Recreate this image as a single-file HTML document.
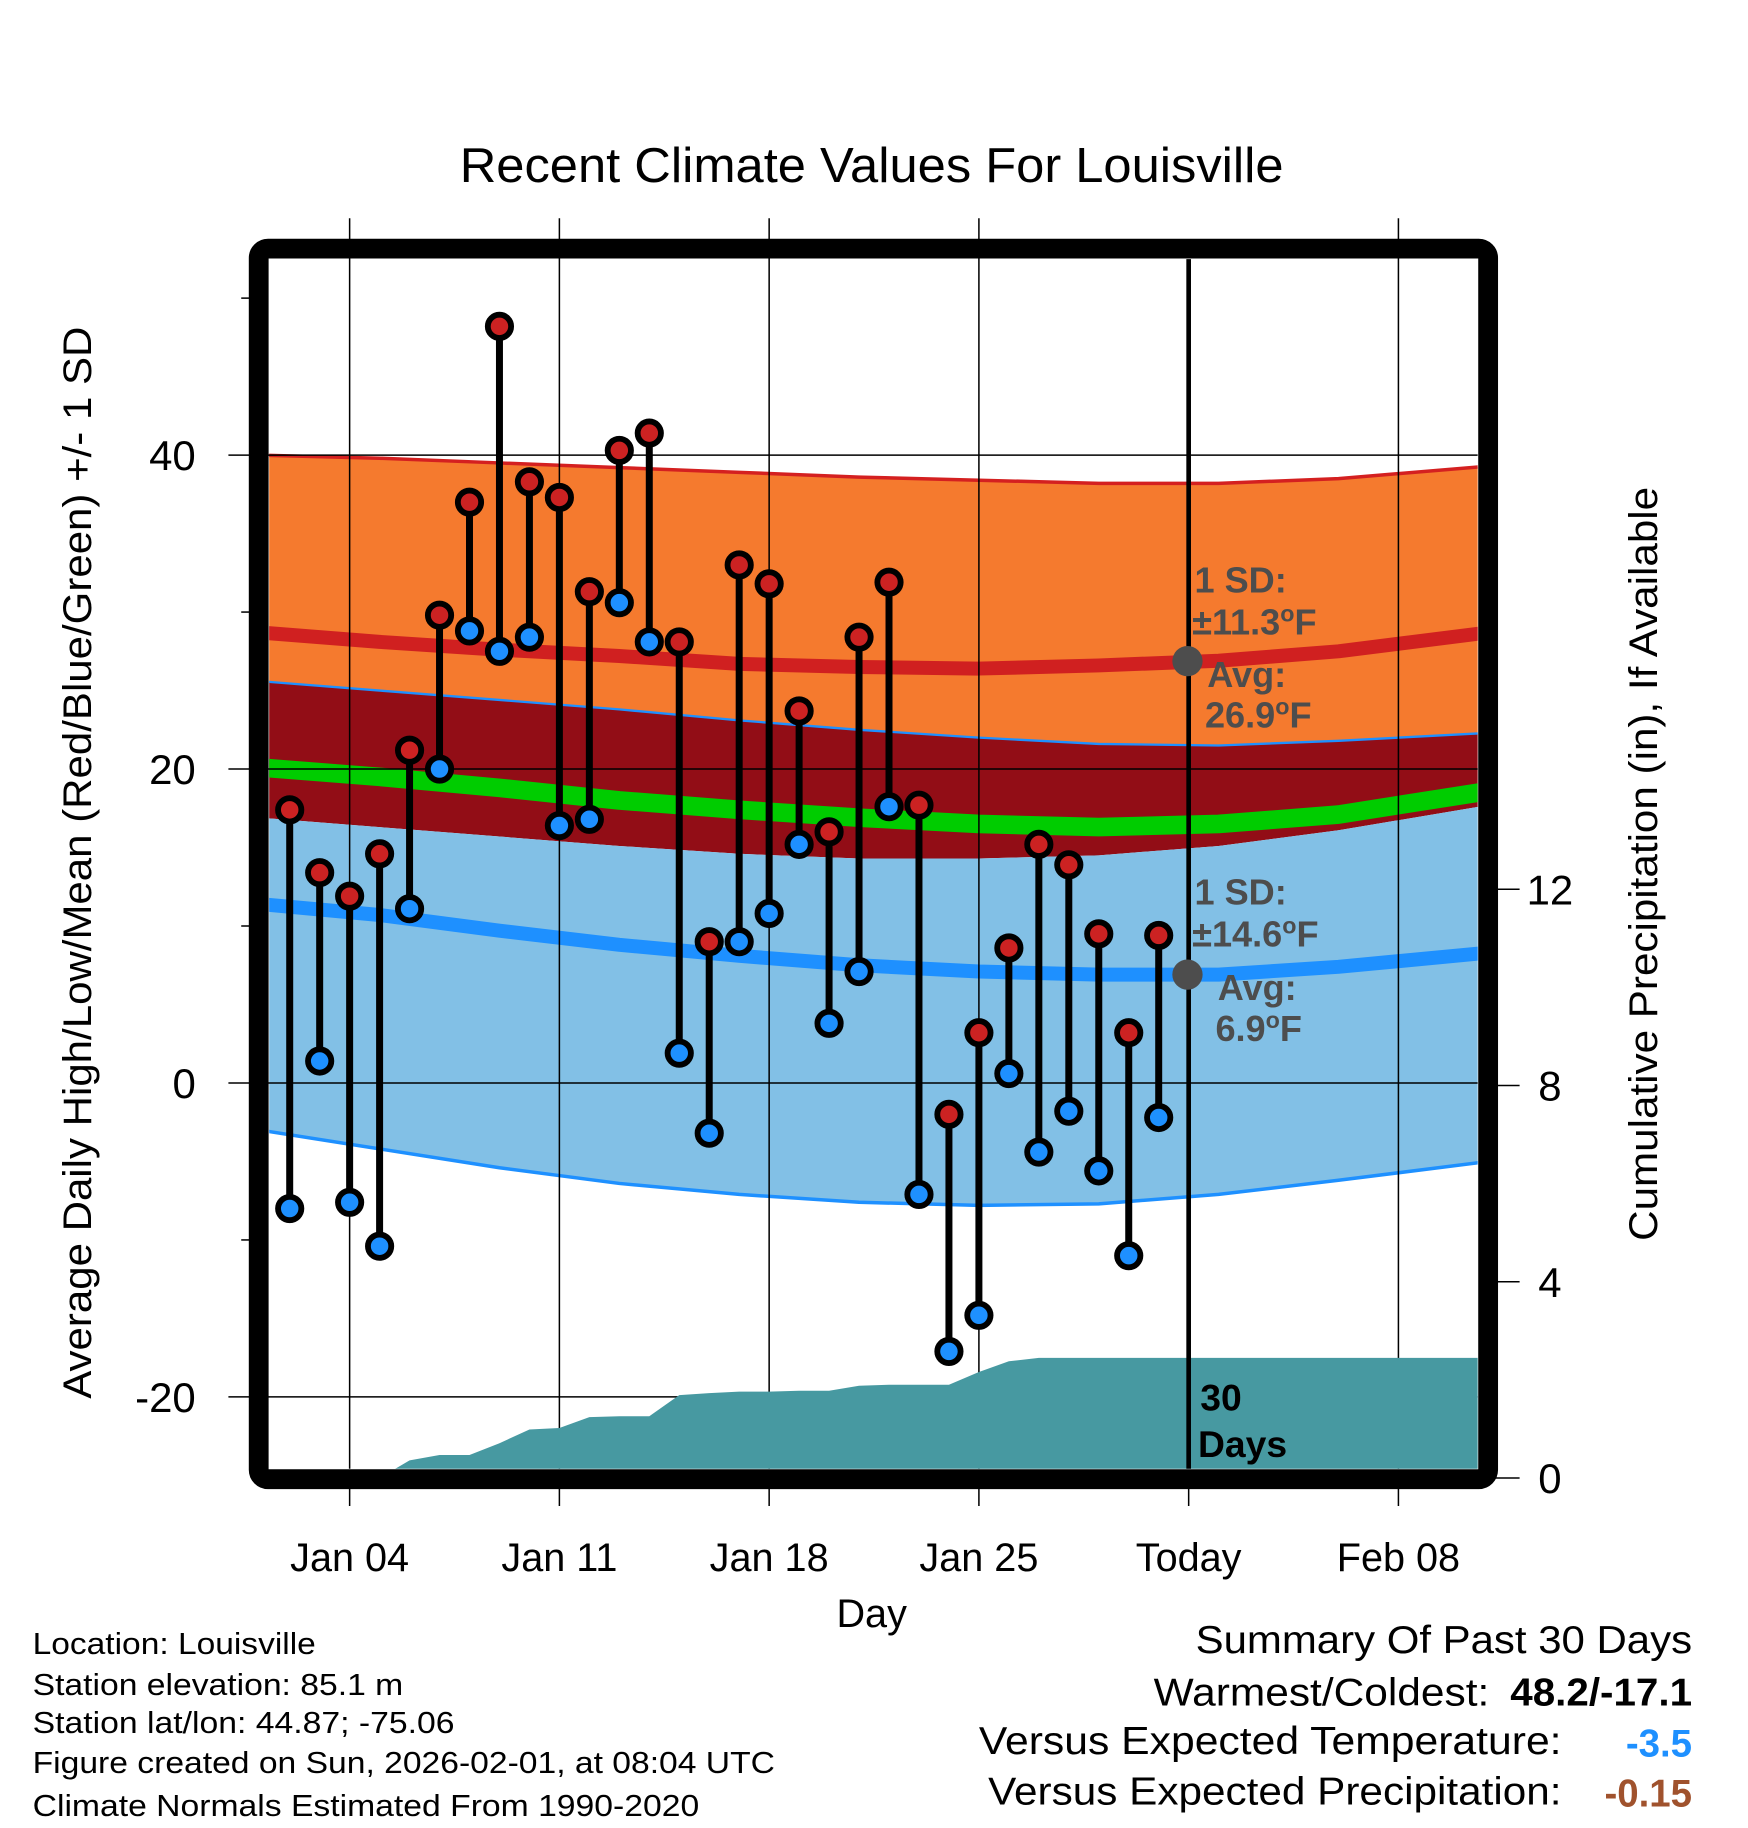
<!DOCTYPE html>
<html><head><meta charset="utf-8"><style>
html,body{margin:0;padding:0;background:#fff}
svg{display:block}
text{font-family:"Liberation Sans",Arial,sans-serif}
</style></head><body>
<svg id="chart" xmlns="http://www.w3.org/2000/svg" width="1748" height="1828" viewBox="0 0 1500 1568">
<defs><clipPath id="plotclip"><rect x="231" y="222" width="1037" height="1038"/></clipPath></defs>
<g id="bands" clip-path="url(#plotclip)"></g>
<g id="grid"></g>
<g id="precip" clip-path="url(#plotclip)"></g>
<g id="todayg"></g>
<g id="marks"></g>
<g id="annot"></g>
<rect x="222" y="213" width="1055" height="1056" rx="8" fill="none" stroke="#000" stroke-width="17"/>
<g id="axes"></g>
<text x="748" y="156" font-size="42" text-anchor="middle" textLength="707" lengthAdjust="spacingAndGlyphs">Recent Climate Values For Louisville</text>
<text transform="translate(78,740) rotate(-90)" font-size="34" text-anchor="middle" textLength="920" lengthAdjust="spacingAndGlyphs">Average Daily High/Low/Mean (Red/Blue/Green) +/- 1 SD</text>
<text transform="translate(1422,741) rotate(-90)" font-size="34" text-anchor="middle" textLength="647" lengthAdjust="spacingAndGlyphs">Cumulative Precipitation (in), If Available</text>
<text x="748" y="1396" font-size="34" text-anchor="middle">Day</text>
<g font-size="26">
<text x="28" y="1419" textLength="243" lengthAdjust="spacingAndGlyphs">Location: Louisville</text>
<text x="28" y="1454" textLength="318" lengthAdjust="spacingAndGlyphs">Station elevation: 85.1 m</text>
<text x="28" y="1487" textLength="362" lengthAdjust="spacingAndGlyphs">Station lat/lon: 44.87; -75.06</text>
<text x="28" y="1521" textLength="637" lengthAdjust="spacingAndGlyphs">Figure created on Sun, 2026-02-01, at 08:04 UTC</text>
<text x="28" y="1558" textLength="572" lengthAdjust="spacingAndGlyphs">Climate Normals Estimated From 1990-2020</text>
</g>
<g font-size="33">
<text x="1452" y="1418" text-anchor="end" textLength="426" lengthAdjust="spacingAndGlyphs">Summary Of Past 30 Days</text>
<text x="1278" y="1463" text-anchor="end" textLength="288" lengthAdjust="spacingAndGlyphs">Warmest/Coldest:</text>
<text x="1452" y="1463" text-anchor="end" font-weight="bold" textLength="156" lengthAdjust="spacingAndGlyphs">48.2/-17.1</text>
<text x="1340" y="1505" text-anchor="end" textLength="500" lengthAdjust="spacingAndGlyphs">Versus Expected Temperature:</text>
<text x="1452" y="1507" text-anchor="end" font-weight="bold" fill="#1e90ff">-3.5</text>
<text x="1340" y="1548" text-anchor="end" textLength="492" lengthAdjust="spacingAndGlyphs">Versus Expected Precipitation:</text>
<text x="1452" y="1550" text-anchor="end" font-weight="bold" fill="#a0522d">-0.15</text>
</g>
</svg>
<script>
// ---- data ----
const days = ["Jan 02","Jan 03","Jan 04","Jan 05","Jan 06","Jan 07","Jan 08","Jan 09","Jan 10","Jan 11","Jan 12","Jan 13","Jan 14","Jan 15","Jan 16","Jan 17","Jan 18","Jan 19","Jan 20","Jan 21","Jan 22","Jan 23","Jan 24","Jan 25","Jan 26","Jan 27","Jan 28","Jan 29","Jan 30","Jan 31"];
const highs = [17.4,13.4,11.9,14.6,21.2,29.8,37.0,48.2,38.3,37.3,31.3,40.3,41.4,28.1,9.0,33.0,31.8,23.7,16.0,28.4,31.9,17.7,-2.0,3.2,8.6,15.2,13.9,9.5,3.2,9.4];
const lows = [-8.0,1.4,-7.6,-10.4,11.1,20.0,28.8,27.5,28.4,16.4,16.8,30.6,28.1,1.9,-3.2,9.0,10.8,15.2,3.8,7.1,17.6,-7.1,-17.1,-14.8,0.6,-4.4,-1.8,-5.6,-11.0,-2.2];
const precip = [0,0,0,0,0.36,0.47,0.47,0.71,0.99,1.02,1.24,1.26,1.26,1.69,1.73,1.76,1.76,1.78,1.78,1.88,1.90,1.90,1.90,2.16,2.38,2.45,2.45,2.45,2.45,2.45];
// normals sampled at day offsets from Jan 02
const normDays = [-1,3,7,11,15,19,23,27,31,35,40];
const normHighMean = [28.7,28.1,27.6,27.2,26.7,26.5,26.4,26.6,26.9,27.5,28.7];
const normHighUp = [40.0,39.8,39.5,39.2,38.9,38.6,38.4,38.2,38.2,38.5,39.3];
const normHighLo = [25.6,25.0,24.4,23.8,23.1,22.5,22.0,21.6,21.5,21.8,22.3];
const normMean = [20.1,19.5,18.8,18.0,17.4,16.9,16.5,16.3,16.5,17.1,18.6];
const normLowUp = [16.9,16.3,15.7,15.1,14.6,14.3,14.3,14.5,15.1,16.1,17.7];
const normLowMean = [11.4,10.7,9.7,8.8,8.1,7.5,7.1,6.9,6.9,7.4,8.3];
const normLowLo = [-3.0,-4.2,-5.4,-6.4,-7.1,-7.6,-7.8,-7.7,-7.1,-6.2,-5.0];
const xTickLabels = ["Jan 04","Jan 11","Jan 18","Jan 25","Today","Feb 08"];
const xTickDays = [2,9,16,23,30,37];
const yTicks = [40,20,0,-20];
const yMinor = [50,30,10,-10];
const pTicks = [0,4,8,12];

// ---- scales ----
const X = d => 248.6 + d*25.714;
const Y = t => 929 - t*13.47;
const P = p => 1268 - p*42.1;
const NS = "http://www.w3.org/2000/svg";
function mk(tag, attrs, parent){const e=document.createElementNS(NS,tag);for(const k in attrs)e.setAttribute(k,attrs[k]);parent.appendChild(e);return e;}
const bands=document.getElementById('bands'),grid=document.getElementById('grid'),pg=document.getElementById('precip'),marks=document.getElementById('marks'),axes=document.getElementById('axes'),todayg=document.getElementById('todayg');
function pts(arr){return normDays.map((d,i)=>X(d)+','+Y(arr[i]));}
function band(up,lo,fill,name){const p=pts(up).concat(pts(lo).reverse()).join(' ');const e=mk('polygon',{points:p,fill:fill},bands);

}
function line(arr,col,w,name){const e=mk('polyline',{points:pts(arr).join(' '),fill:'none',stroke:col,'stroke-width':w,'stroke-linejoin':'round'},bands);

}
band(normHighUp,normHighLo,'#f57a2e','high-sd-band');
band(normHighLo,normLowUp,'#920d16','overlap-band');
band(normLowUp,normLowLo,'#82c0e6','low-sd-band');
line(normHighUp,'#d42020',3,'high-upper-line');
line(normHighLo,'#1e90ff',2,'high-lower-line');
line(normLowLo,'#1e90ff',3,'low-lower-line');
line(normHighMean,'#d02020',12,'normal-high-line');
line(normMean,'#00cc00',16,'normal-mean-line');
line(normLowMean,'#1e90ff',12,'normal-low-line');

// grid
xTickDays.forEach((d,i)=>{
  const today = xTickLabels[i]==='Today';
  const g=mk('line',{x1:X(d),x2:X(d),y1:today?222:187,y2:1260,stroke:'#000','stroke-width':today?4:1.3},today?todayg:grid);
  
  
  const t=mk('line',{x1:X(d),x2:X(d),y1:1276,y2:1292,stroke:'#000','stroke-width':1.3},axes);
  
  
  const lb=mk('text',{x:X(d),y:1348,'font-size':34,'text-anchor':'middle'},axes);
  lb.textContent=xTickLabels[i];
  
  
});
yTicks.forEach(v=>{
  const g=mk('line',{x1:196,x2:1268,y1:Y(v),y2:Y(v),stroke:'#000','stroke-width':1.3},grid);
  
  
  const lb=mk('text',{x:168,y:Y(v)+13,'font-size':36,'text-anchor':'end'},axes);
  lb.textContent=v;
  
  
});
yMinor.forEach(v=>{
  const t=mk('line',{x1:207,x2:214,y1:Y(v),y2:Y(v),stroke:'#000','stroke-width':1.3},axes);
  
  
});
pTicks.forEach(v=>{
  const t=mk('line',{x1:1280,x2:1304,y1:P(v),y2:P(v),stroke:'#000','stroke-width':1.3},axes);
  
  
  const lb=mk('text',{x:1330,y:P(v)+13,'font-size':36,'text-anchor':'middle'},axes);
  lb.textContent=v;
  
  
});

// precip area
let pp=[X(-1)+','+P(0)];
precip.forEach((v,i)=>pp.push(X(i)+','+P(v)));
pp.push('1270,'+P(precip[precip.length-1]));pp.push('1270,'+P(0));
const pa=mk('polygon',{points:pp.join(' '),fill:'#4799a1'},pg);



// temp marks
days.forEach((d,i)=>{
  const x=X(i);
  const s=mk('line',{x1:x,x2:x,y1:Y(highs[i]),y2:Y(lows[i]),stroke:'#000','stroke-width':6},marks);
  
  
  const h=mk('circle',{cx:x,cy:Y(highs[i]),r:10,fill:'#cc2222',stroke:'#000','stroke-width':5},marks);
  
  
  const l=mk('circle',{cx:x,cy:Y(lows[i]),r:10,fill:'#1e90ff',stroke:'#000','stroke-width':5},marks);
  
  
});
</script>
<script>
// annotations
(function(){
const a=document.getElementById('annot');const NS="http://www.w3.org/2000/svg";
function t(x,y,s,fs,col,name){const e=document.createElementNS(NS,'text');e.setAttribute('x',x);e.setAttribute('y',y);e.setAttribute('font-size',fs);e.setAttribute('font-weight','bold');e.setAttribute('fill',col);e.innerHTML=s;


a.appendChild(e);}
function c(cx,cy,name){const e=document.createElementNS(NS,'circle');e.setAttribute('cx',cx);e.setAttribute('cy',cy);e.setAttribute('r',13);e.setAttribute('fill','#4d4d4d');


a.appendChild(e);}
c(1019,567,'high-avg-dot');c(1019,836,'low-avg-dot');
const g='#4d4d4d';
t(1025,508,'1 SD:',31,g,'high-sd-label');
t(1023,544,'±11.3<tspan baseline-shift="super" font-size="20">o</tspan>F',31,g,'high-sd-value');
t(1036,589,'Avg:',31,g,'high-avg-label');
t(1034,624,'26.9<tspan baseline-shift="super" font-size="20">o</tspan>F',31,g,'high-avg-value');
t(1025,776,'1 SD:',31,g,'low-sd-label');
t(1023,812,'±14.6<tspan baseline-shift="super" font-size="20">o</tspan>F',31,g,'low-sd-value');
t(1045,858,'Avg:',31,g,'low-avg-label');
t(1043,893,'6.9<tspan baseline-shift="super" font-size="20">o</tspan>F',31,g,'low-avg-value');
t(1030,1210,'30',32,'#000','days-count-label');
t(1028,1250,'Days',32,'#000','days-label');
})();
</script>
</body></html>
